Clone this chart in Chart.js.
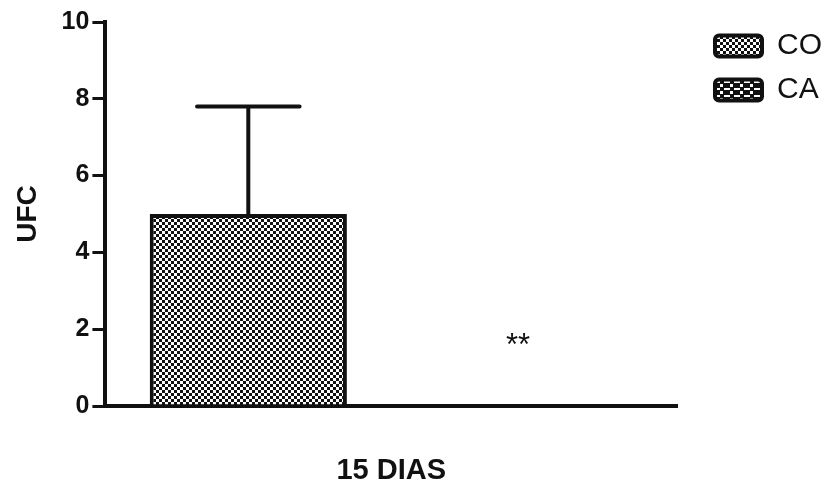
<!DOCTYPE html>
<html>
<head>
<meta charset="utf-8">
<script src="https://cdn.jsdelivr.net/npm/chart.js@4"></script>
<style>
  body { margin: 0; background: #fff; }
  #wrap { width: 829px; height: 485px; }
</style>
</head>
<body>
<div id="wrap"><canvas id="ufcChart"></canvas></div>
<script>
// data
const categories = ['15 DIAS']
const seriesNames = ['CO', 'CA']
const coValues = [5.0]
const caValues = [0]
const coErr = [2.8]
const caErr = [0]
const yTicks = [0, 2, 4, 6, 8, 10]
const marks = ['', '**']      // significance mark per series
const markAt = [0, 1.55]

function checker(size) {
  const c = document.createElement('canvas')
  c.width = c.height = size * 2
  const g = c.getContext('2d')
  g.fillStyle = '#fff'; g.fillRect(0, 0, size * 2, size * 2)
  g.fillStyle = '#111'
  g.fillRect(0, 0, size, size)
  g.fillRect(size, size, size, size)
  return g.createPattern(c, 'repeat')
}
function blocks() {
  const c = document.createElement('canvas')
  c.width = 10; c.height = 7
  const g = c.getContext('2d')
  g.fillStyle = '#111'; g.fillRect(0, 0, 10, 7)
  g.fillStyle = '#fff'
  g.fillRect(0, 0, 3, 3)
  g.fillRect(4, 4, 6, 2)
  return g.createPattern(c, 'repeat')
}

// error bars (cap is drawn even for a zero SD) and the significance mark
const errorBars = {
  id: 'errorBars',
  afterDatasetsDraw(chart) {
    const ctx = chart.ctx
    const y = chart.scales.y
    const errs = [coErr, caErr]
    ctx.save()
    ctx.strokeStyle = '#111'
    ctx.lineWidth = 4
    ctx.lineCap = 'round'
    chart.data.datasets.forEach((ds, i) => {
      const meta = chart.getDatasetMeta(i)
      meta.data.forEach((bar, j) => {
        const top = y.getPixelForValue(ds.data[j] + errs[i][j])
        const base = y.getPixelForValue(ds.data[j])
        const half = bar.width * 0.26
        ctx.beginPath()
        ctx.moveTo(bar.x, base)
        ctx.lineTo(bar.x, top)
        ctx.moveTo(bar.x - half, top)
        ctx.lineTo(bar.x + half, top)
        ctx.stroke()
      })
      if (marks[i]) {
        const bar = meta.data[0]
        ctx.fillStyle = '#111'
        ctx.font = '31px "Liberation Sans", Arial, sans-serif'
        ctx.textAlign = 'center'
        ctx.textBaseline = 'middle'
        ctx.fillText(marks[i], bar.x - 16, y.getPixelForValue(markAt[i]))
      }
    })
    ctx.restore()
  }
}

// push the legend a little away from the plot area
const legendGap = {
  id: 'legendGap',
  beforeLayout(chart) {
    const lg = chart.legend
    if (!lg || lg._gapPatched) return
    const fit = lg.fit
    lg.fit = function () { fit.call(this); this.width += 21 }
    lg._gapPatched = true
  },
  afterLayout(chart) {
    chart.legend.left += 24
    chart.legend.top -= 5
  }
}

const font = '"Liberation Sans", Arial, sans-serif'
const ctx = document.getElementById('ufcChart').getContext('2d')
new Chart(ctx, {
  type: 'bar',
  data: {
    labels: categories,
    datasets: [{
      label: seriesNames[0],
      data: coValues,
      backgroundColor: checker(3),
      borderColor: '#111',
      borderWidth: 4,
      borderSkipped: 'bottom'
    }, {
      label: seriesNames[1],
      data: caValues,
      backgroundColor: blocks(),
      borderColor: '#111',
      borderWidth: 4,
      borderSkipped: 'bottom'
    }]
  },
  options: {
    responsive: true,
    maintainAspectRatio: false,
    animation: false,
    layout: { padding: { top: 22, right: 0, bottom: 0, left: 11 } },
    datasets: { bar: { categoryPercentage: 1.0, barPercentage: 0.69 } },
    plugins: {
      tooltip: { enabled: false },
      legend: {
        position: 'right',
        align: 'start',
        labels: {
          color: '#111',
          font: { family: font, size: 30 },
          boxWidth: 47,
          boxHeight: 21,
          padding: 14,
          useBorderRadius: true,
          borderRadius: 4
        }
      }
    },
    scales: {
      x: {
        afterFit: s => { s.height = 79 },
        grid: { display: false },
        border: { display: true, color: '#111', width: 4 },
        ticks: { color: '#111', padding: 40, font: { family: font, size: 29, weight: 'bold' } }
      },
      y: {
        min: 0,
        max: 10,
        afterBuildTicks: s => { s.ticks = yTicks.map(v => ({ value: v })) },
        grid: { drawOnChartArea: false, color: '#111', lineWidth: 3, tickLength: 13 },
        border: { display: true, color: '#111', width: 4 },
        ticks: { color: '#111', padding: 3, font: { family: font, size: 25, weight: 'bold' } },
        title: {
          display: true,
          text: 'UFC',
          color: '#111',
          padding: { top: 0, bottom: 14 },
          font: { family: font, size: 28, weight: 'bold' }
        }
      }
    }
  },
  plugins: [errorBars, legendGap]
})
</script>
</body>
</html>
